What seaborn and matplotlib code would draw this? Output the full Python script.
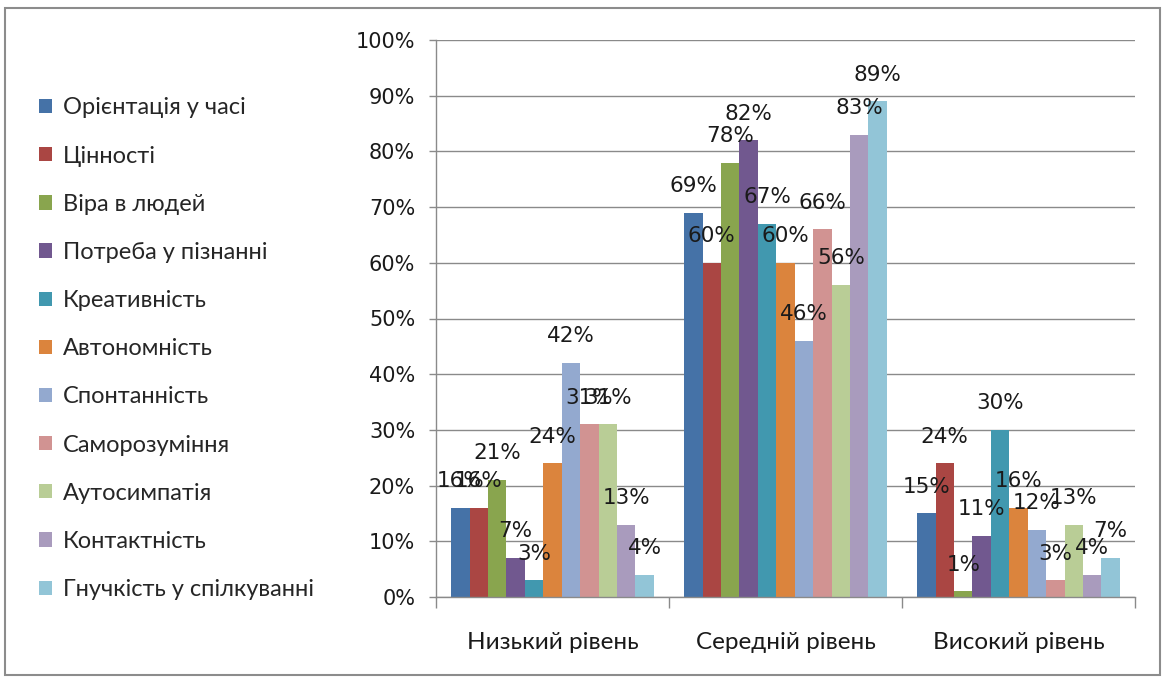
import matplotlib
matplotlib.use("Agg")
import matplotlib.pyplot as plt
import seaborn as sns
import pandas as pd
from matplotlib.patches import Rectangle

levels = ["Низький рівень", "Середній рівень", "Високий рівень"]
series = ["Орієнтація у часі", "Цінності", "Віра в людей", "Потреба у пізнанні",
          "Креативність", "Автономність", "Спонтанність", "Саморозуміння",
          "Аутосимпатія", "Контактність", "Гнучкість у спілкуванні"]
low = [16, 16, 21, 7, 3, 24, 42, 31, 31, 13, 4]
mid = [69, 60, 78, 82, 67, 60, 46, 66, 56, 83, 89]
high = [15, 24, 1, 11, 30, 16, 12, 3, 13, 4, 7]
yticks = [0, 10, 20, 30, 40, 50, 60, 70, 80, 90, 100]
colors = ["#4572A7", "#AA4643", "#89A54E", "#71588F", "#4198AF", "#DB843D",
          "#93A9CF", "#D19392", "#B9CD96", "#A99BBD", "#92C5D7"]

rows = []
for lvl, vals in zip(levels, [low, mid, high]):
    for s, v in zip(series, vals):
        rows.append({"level": lvl, "series": s, "value": v})
df = pd.DataFrame(rows)

sns.set_theme(style="white")
plt.rcParams["font.family"] = ["Lato", "DejaVu Sans"]

fig = plt.figure(figsize=(11.66, 6.78), dpi=100)
ax = fig.add_axes([436/1166, 1-597/678, (1135-436)/1166, (597-40)/678])

sns.barplot(data=df, x="level", y="value", hue="series", order=levels,
            hue_order=series, palette=colors, width=0.87, saturation=1,
            linewidth=0, ax=ax, legend=True)

for cont in ax.containers:
    vals = [b.get_height() for b in cont]
    ax.bar_label(cont, labels=[f"{v:.0f}%" for v in vals], padding=12,
                 fontsize=15.5, color="#1a1a1a", family=["DejaVu Sans"])

ax.set_ylim(0, 100)
ax.set_xlim(-0.5, 2.5)
ax.set_yticks(yticks)
ax.set_yticklabels([f"{t}%" for t in yticks], family=["Liberation Sans Narrow", "DejaVu Sans"],
                   fontsize=15, color="#1a1a1a")
ax.yaxis.grid(True, color="#8a8a8a", linewidth=1)
ax.set_axisbelow(True)
ax.tick_params(axis="y", length=5, width=1, color="#8a8a8a", pad=10, left=True)

ax.set_xticks([-0.5, 0.5, 1.5, 2.5])
ax.set_xticklabels([])
ax.set_xticks([0, 1, 2], minor=True)
ax.set_xticklabels(levels, minor=True, fontsize=17.5, color="#1a1a1a")
ax.tick_params(axis="x", which="major", length=8, width=1, color="#8a8a8a", bottom=True)
ax.tick_params(axis="x", which="minor", length=0, pad=25)
ax.set_xlabel("")
ax.set_ylabel("")

for side in ["top", "right"]:
    ax.spines[side].set_visible(False)
for side in ["left", "bottom"]:
    ax.spines[side].set_color("#8a8a8a")
    ax.spines[side].set_linewidth(1)

handles, labels = ax.get_legend_handles_labels()
ax.legend(handles, labels, loc="upper left", bbox_to_anchor=(30/1166, 1-88/678),
          bbox_transform=fig.transFigure, frameon=False, fontsize=17,
          handlelength=0.55, handleheight=0.55, handletextpad=0.45,
          labelspacing=1.15, borderaxespad=0)

fig.patches.append(Rectangle((5/1166, 3/678), 1155/1166, 667/678,
                             transform=fig.transFigure, fill=False,
                             edgecolor="#8c8c8c", linewidth=1.5))

fig.savefig("out.png", dpi=100)
